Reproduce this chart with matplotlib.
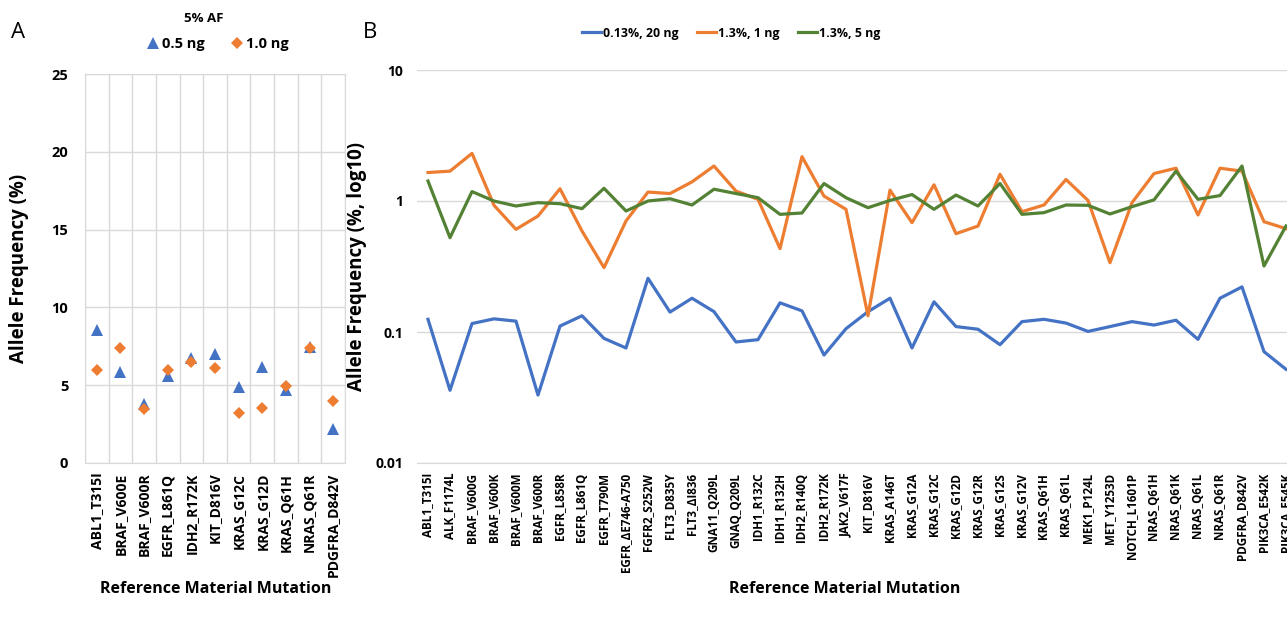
import matplotlib
matplotlib.use("Agg")
import matplotlib.pyplot as plt
from matplotlib.lines import Line2D

plt.rcParams['font.family'] = ['Open Sans', 'DejaVu Sans']

# ---- Panel A data: 5% AF at two inputs ----
a_mutations = ["ABL1_T315I", "BRAF_V600E", "BRAF_V600R", "EGFR_L861Q", "IDH2_R172K",
               "KIT_D816V", "KRAS_G12C", "KRAS_G12D", "KRAS_Q61H", "NRAS_Q61R",
               "PDGFRA_D842V"]
af_05ng = [8.55, 5.86, 3.78, 5.60, 6.78, 7.00, 4.90, 6.18, 4.72, 7.47, 2.20]
af_10ng = [6.00, 7.40, 3.50, 5.97, 6.48, 6.12, 3.22, 3.54, 4.94, 7.42, 3.99]
a_yticks = [0, 5, 10, 15, 20, 25]

# ---- Panel B data: low-AF series on log scale ----
b_mutations = ["ABL1_T315I", "ALK_F1174L", "BRAF_V600G", "BRAF_V600K", "BRAF_V600M",
               "BRAF_V600R", "EGFR_L858R", "EGFR_L861Q", "EGFR_T790M", "EGFR_\u0394E746-A750",
               "FGFR2_S252W", "FLT3_D835Y", "FLT3_\u0394I836", "GNA11_Q209L", "GNAQ_Q209L",
               "IDH1_R132C", "IDH1_R132H", "IDH2_R140Q", "IDH2_R172K", "JAK2_V617F",
               "KIT_D816V", "KRAS_A146T", "KRAS_G12A", "KRAS_G12C", "KRAS_G12D",
               "KRAS_G12R", "KRAS_G12S", "KRAS_G12V", "KRAS_Q61H", "KRAS_Q61L",
               "MEK1_P124L", "MET_Y1253D", "NOTCH_L1601P", "NRAS_Q61H", "NRAS_Q61K",
               "NRAS_Q61L", "NRAS_Q61R", "PDGFRA_D842V", "PIK3CA_E542K", "PIK3CA_E545K"]
af_013_20ng = [0.125, 0.0359, 0.116, 0.126, 0.121, 0.0330, 0.111, 0.133, 0.0894, 0.0755,
               0.257, 0.142, 0.181, 0.143, 0.0839, 0.0874, 0.167, 0.145, 0.0667, 0.106,
               0.143, 0.181, 0.0755, 0.170, 0.110, 0.105, 0.080, 0.120, 0.125, 0.117,
               0.101, 0.110, 0.120, 0.113, 0.123, 0.0879, 0.181, 0.221, 0.0708, 0.0519]
af_13_1ng = [1.65, 1.69, 2.31, 0.927, 0.608, 0.768, 1.24, 0.590, 0.310, 0.704,
             1.17, 1.14, 1.40, 1.85, 1.19, 1.03, 0.433, 2.18, 1.09, 0.864,
             0.133, 1.21, 0.683, 1.33, 0.563, 0.644, 1.60, 0.829, 0.932, 1.46,
             1.01, 0.338, 0.971, 1.62, 1.78, 0.782, 1.78, 1.69, 0.695, 0.615]
af_13_5ng = [1.42, 0.525, 1.18, 1.00, 0.916, 0.971, 0.954, 0.874, 1.25, 0.839,
             1.00, 1.04, 0.932, 1.23, 1.14, 1.06, 0.791, 0.810, 1.36, 1.06,
             0.889, 1.01, 1.12, 0.864, 1.11, 0.916, 1.36, 0.791, 0.815, 0.932,
             0.927, 0.796, 0.905, 1.02, 1.69, 1.03, 1.10, 1.85, 0.319, 0.644]
b_yticks = [0.01, 0.1, 1, 10]
b_yticklabels = ["0.01", "0.1", "1", "10"]

BLUE = "#4472C4"
ORANGE = "#ED7D31"
GREEN = "#548235"
GRID = "#D9D9D9"

W, H = 1287, 620
fig = plt.figure(figsize=(W / 100, H / 100), dpi=100)

# ---------------- Panel A ----------------
axA = fig.add_axes([85 / W, 1 - 463 / H, 260 / W, 389 / H])
xa = list(range(len(a_mutations)))
axA.plot(xa, af_05ng, linestyle="none", marker="^", ms=8.5, color=BLUE, mew=0, zorder=3)
axA.plot(xa, af_10ng, linestyle="none", marker="D", ms=6.5, color=ORANGE, mew=0, zorder=4)
axA.set_xlim(-0.5, len(a_mutations) - 0.5)
axA.set_ylim(0, 25)
axA.set_yticks(a_yticks)
axA.set_yticklabels([str(v) for v in a_yticks], fontsize=10.5, fontweight="bold")
axA.set_xticks(xa)
axA.set_xticklabels(a_mutations, rotation=90, fontsize=10, fontweight="bold")
axA.set_xticks([i - 0.5 for i in range(len(a_mutations) + 1)], minor=True)
axA.grid(True, which="major", axis="y", color=GRID, lw=1)
axA.grid(True, which="minor", axis="x", color=GRID, lw=1)
axA.tick_params(axis="both", which="both", length=0)
axA.tick_params(axis="y", pad=12)
axA.tick_params(axis="x", pad=7)
for s in axA.spines.values():
    s.set_color(GRID)
axA.set_axisbelow(True)
axA.set_ylabel("Allele Frequency (%)", fontsize=13.5, fontweight="bold")
axA.yaxis.set_label_coords(-0.215, 0.5)

# legend for panel A: title line plus marker entries
fig.text(204 / W, 1 - 18 / H, "5% AF", ha="center", va="center",
         fontsize=9.5, fontweight="bold")
handlesA = [Line2D([], [], linestyle="none", marker="^", ms=8.5, color=BLUE, mew=0),
            Line2D([], [], linestyle="none", marker="D", ms=6.5, color=ORANGE, mew=0)]
fig.legend(handlesA, ["0.5 ng", "1.0 ng"], ncol=2, frameon=False,
           loc="center", bbox_to_anchor=(218 / W, 1 - 44 / H),
           prop={"size": 10.5, "weight": "bold"},
           handlelength=0.8, handletextpad=0.2, columnspacing=1.8)

fig.text(216 / W, 1 - 589 / H, "Reference Material Mutation", ha="center", va="center",
         fontsize=11.5, fontweight="bold")
fig.text(18 / W, 1 - 32 / H, "A", ha="center", va="center", fontsize=16)

# ---------------- Panel B ----------------
axB = fig.add_axes([417 / W, 1 - 463 / H, 880 / W, 393 / H])
xb = list(range(len(b_mutations)))
axB.plot(xb, af_013_20ng, color=BLUE, lw=2.3, label="0.13%, 20 ng")
axB.plot(xb, af_13_1ng, color=ORANGE, lw=2.3, label="1.3%, 1 ng")
axB.plot(xb, af_13_5ng, color=GREEN, lw=2.3, label="1.3%, 5 ng")
axB.set_yscale("log")
axB.set_xlim(-0.5, len(b_mutations) - 0.5)
axB.set_ylim(0.01, 10)
axB.set_yticks(b_yticks)
axB.set_yticklabels(b_yticklabels, fontsize=10, fontweight="bold")
axB.yaxis.set_minor_locator(matplotlib.ticker.NullLocator())
axB.set_xticks(xb)
axB.set_xticklabels(b_mutations, rotation=90, fontsize=8.4, fontweight="bold")
axB.grid(True, which="major", axis="y", color=GRID, lw=1)
axB.tick_params(axis="both", which="both", length=0)
axB.tick_params(axis="y", pad=10)
axB.tick_params(axis="x", pad=7)
for k in ("left", "right", "top"):
    axB.spines[k].set_visible(False)
axB.spines["bottom"].set_color(GRID)
axB.set_axisbelow(True)
axB.set_ylabel("Allele Frequency (%, log10)", fontsize=13.5, fontweight="bold")
axB.yaxis.set_label_coords((367 - 417) / 880, 0.5)

fig.legend(*axB.get_legend_handles_labels(), ncol=3, frameon=False,
           loc="center", bbox_to_anchor=(731 / W, 1 - 33 / H),
           prop={"size": 8.9, "weight": "bold"},
           handlelength=1.55, handletextpad=0.15, columnspacing=1.5)

fig.text(845 / W, 1 - 589 / H, "Reference Material Mutation", ha="center", va="center",
         fontsize=11.5, fontweight="bold")
fig.text(370 / W, 1 - 32 / H, "B", ha="center", va="center", fontsize=16)

fig.savefig("out.png", dpi=100, facecolor="white")
